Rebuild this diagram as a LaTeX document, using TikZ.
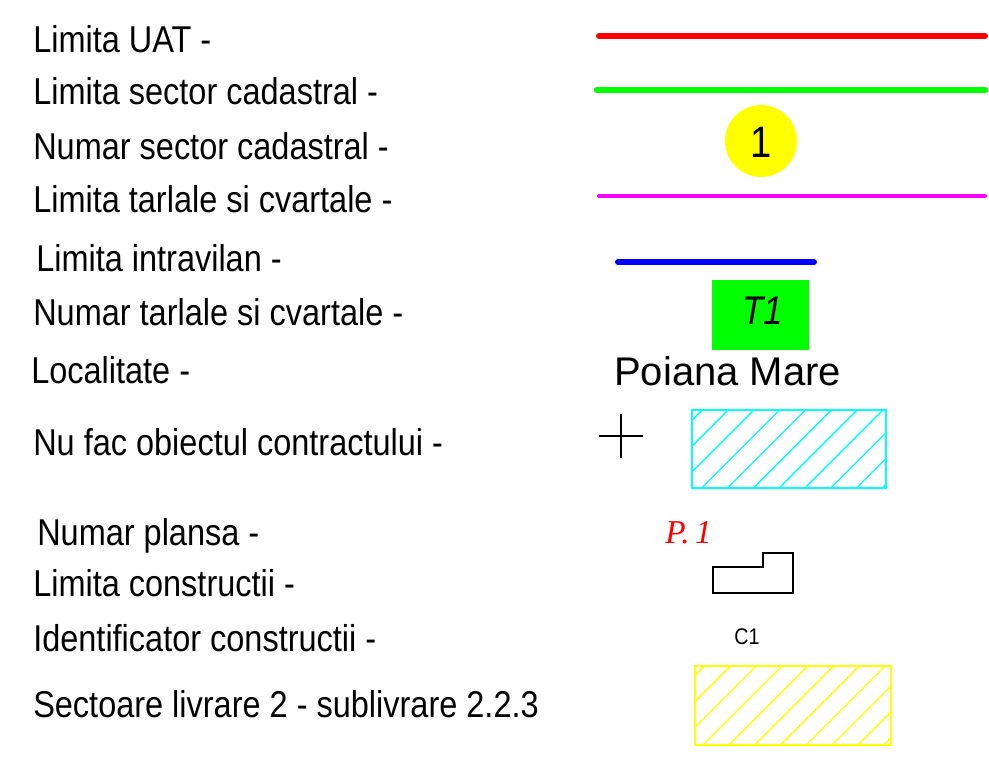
\documentclass[tikz,border=0pt]{standalone}
\usepackage{fontspec}
\setmainfont[FakeStretch=0.87]{Liberation Sans}
\newfontfamily\widesans{Liberation Sans}
\newfontfamily\serifit{Liberation Serif}
\definecolor{uatred}{RGB}{255,0,0}
\definecolor{sectgreen}{RGB}{0,255,0}
\definecolor{nryellow}{RGB}{255,255,0}
\definecolor{tarlamag}{RGB}{255,0,255}
\definecolor{intrablue}{RGB}{0,0,255}
\definecolor{hatchcyan}{RGB}{0,255,255}

\begin{document}
\begin{tikzpicture}[x=0.75pt,y=-0.75pt,
    legtext/.style={anchor=base west,inner sep=0pt,font=\fontsize{28}{32}\selectfont}]
    	% border
    	\useasboundingbox (0,0) rectangle (989,764);
    	% labels
    	\node[legtext] (uat)    at (33,52)  {Limita UAT -};
    	\node[legtext] (sector) at (33,104) {Limita sector cadastral -};
    	\node[legtext] (nrsect) at (33,159) {Numar sector cadastral -};
    	\node[legtext] (tarla)  at (33,212) {Limita tarlale si cvartale -};
    	\node[legtext] (intra)  at (36,271) {Limita intravilan -};
    	\node[legtext] (nrtarla) at (33,325) {Numar tarlale si cvartale -};
    	\node[legtext] (loc)    at (31,383) {Localitate -};
    	\node[legtext] (nufac)  at (33,455) {Nu fac obiectul contractului -};
    	\node[legtext] (plansa) at (37,545) {Numar plansa -};
    	\node[legtext] (constr) at (33,596) {Limita constructii -};
    	\node[legtext] (ident)  at (33,651) {Identificator constructii -};
    	\node[legtext] (livr)   at (33,717) {Sectoare livrare 2 - sublivrare 2.2.3};
    	% lines
    	\draw[uatred,line width=4.5pt,line cap=round]    (599,36) -- (985,36);
    	\draw[sectgreen,line width=5pt,line cap=round]   (597,90) -- (985,90);
    	\draw[tarlamag,line width=3pt,line cap=round]    (599,196) -- (985,196);
    	\draw[intrablue,line width=4.5pt,line cap=round] (618,262) -- (814,262);
    	% sector number
    	\fill[nryellow] (761,141) circle (36);
    	\draw (761,157) node[anchor=base,inner sep=0pt,font=\fontsize{33}{36}\selectfont] {1};
    	% tarla number
    	\fill[sectgreen] (712,280) rectangle (809,350);
    	\draw (763,324) node[anchor=base,inner sep=0pt,font=\fontsize{30}{34}\selectfont\itshape] {T1};
    	% locality
    	\draw (614,385) node[anchor=base west,inner sep=0pt,font=\fontsize{30}{34}\selectfont\widesans] {Poiana Mare};
    	% cross
    	\draw[line width=1pt] (599,436) -- (643,436) (621,414) -- (621,458);
    	% cyan hatch
    	\begin{scope}
    	\clip (692,410) rectangle (886,488);
    	\foreach \i in {-4,...,7}
    	  \draw[hatchcyan,line width=1pt] (701.7+25.8*\i,488) -- ++(78,-78);
    	\end{scope}
    	\draw[hatchcyan,line width=1.2pt] (692,410) rectangle (886,488);
    	% sheet number
    	\draw[uatred] (665,543) node[anchor=base west,inner sep=0pt,font=\fontsize{25}{28}\selectfont\serifit\itshape] {P.\,1};
    	% building outline
    	\draw[line width=1pt] (713,567) -- (763,567) -- (763,553) -- (793,553) -- (793,593) -- (713,593) -- cycle;
    	\draw (747,644) node[anchor=base,inner sep=0pt,font=\fontsize{17}{20}\selectfont] {C1};
    	% yellow hatch
    	\begin{scope}
    	\clip (695,666) rectangle (891,745);
    	\foreach \i in {-4,...,7}
    	  \draw[nryellow,line width=1pt] (703+25.8*\i,745) -- ++(79,-79);
    	\end{scope}
    	\draw[nryellow,line width=1.2pt] (695,666) rectangle (891,745);
\end{tikzpicture}
\end{document}
